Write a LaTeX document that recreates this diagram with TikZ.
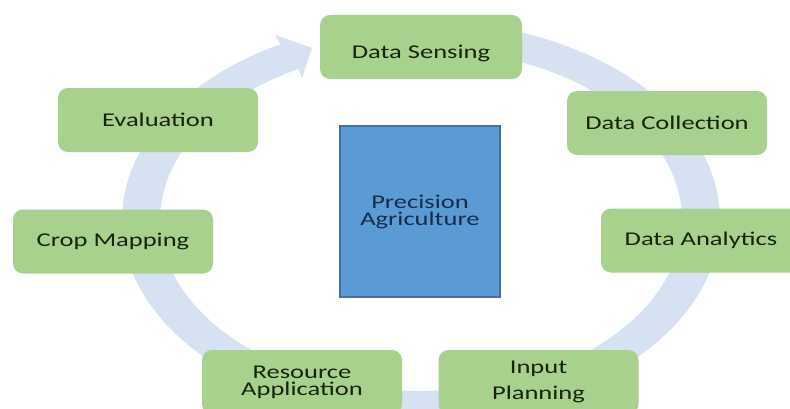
\documentclass[tikz,border=0pt]{standalone}
\usepackage{fontspec}
\setmainfont{Carlito}[FakeStretch=1.36]
\definecolor{stagegreen}{HTML}{A9D18E}
\definecolor{stagetext}{HTML}{18220F}
\definecolor{ringblue}{HTML}{D6E1F1}
\definecolor{corefill}{HTML}{5B9BD5}
\definecolor{coreline}{HTML}{41719C}
\definecolor{coretext}{HTML}{182C48}
\begin{document}
\begin{tikzpicture}[x=1pt,y=1pt,
  stage/.style={fill=stagegreen, rounded corners=10pt, minimum width=200pt,
    minimum height=64pt, inner sep=0pt, text=stagetext,
    font=\fontsize{19.5}{17}\selectfont, align=center},
  core/.style={fill=corefill, draw=coreline, line width=1.2pt,
    minimum width=160pt, minimum height=171pt, inner sep=0pt, text=coretext,
    font=\fontsize{19.5}{17}\selectfont, align=center}
]
\useasboundingbox (0,0) rectangle (790,408);
\clip (0,0) rectangle (790,408);
\fill[white] (0,0) rectangle (790,408);

% circular arrow ring
\fill[ringblue] (421,387) arc[start angle=90, end angle=-242, x radius=299, y radius=199]
  -- (275,373) -- (312,360) -- (302,330)
  -- (298.5,339) arc[start angle=-242, end angle=90, x radius=261, y radius=171] -- cycle;

% centre
\node[core] (core) at (420,196.5) {Precision\\Agriculture};

% stages
\node[stage, minimum width=202pt] (sensing) at (421,361) {\raisebox{-12pt}[0pt][0pt]{Data Sensing}};
\node[stage] (collection) at (667,285) {Data Collection};
\node[stage] (analytics) at (701,167.5) {Data Analytics};
\node[stage] (input) at (538.5,26) {Input\\[9pt]Planning};
\node[stage] (resource) at (302,26) {Resource\\Application};
\node[stage] (crop) at (113,166.5) {Crop Mapping};
\node[stage] (evaluation) at (158,288) {Evaluation};
\end{tikzpicture}
\end{document}
